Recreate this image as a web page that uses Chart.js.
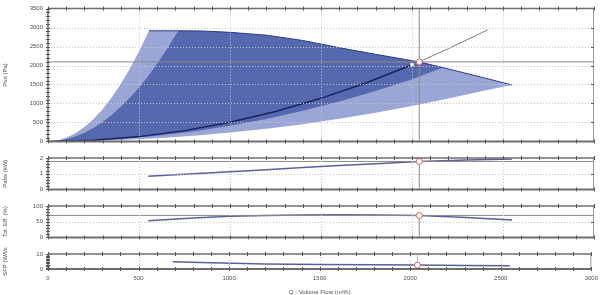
<!DOCTYPE html>
<html>
<head>
<meta charset="utf-8">
<script src="https://cdn.jsdelivr.net/npm/chart.js@4.4.1/dist/chart.umd.min.js"></script>
<style>
  body { margin: 0; background: #fff; width: 604px; height: 295px; overflow: hidden; position: relative; }
  canvas { position: absolute; left: 0; }
</style>
</head>
<body>
<canvas id="ptotChart" width="604" height="150" style="top:0px"></canvas>
<canvas id="pabsChart" width="604" height="50" style="top:148px"></canvas>
<canvas id="effChart" width="604" height="50" style="top:196px"></canvas>
<canvas id="sfpChart" width="604" height="52" style="top:244px"></canvas>
<script>
const flowTicks = [0, 500, 1000, 1500, 2000, 2500, 3000];
const ptotTicks = [0, 500, 1000, 1500, 2000, 2500, 3000, 3500];
const pabsTicks = [0, 1, 2];
const effTicks = [0, 50, 100];
const sfpTicks = [0, 10];

// whole working range of the fan (light area)
const lightLeftQ = [0, 50, 100, 150, 200, 250, 300, 350, 400, 450, 500, 555];
const lightLeftP = [0, 24, 95, 213, 380, 590, 850, 1160, 1515, 1920, 2370, 2915];
const topQ = [555, 716, 850, 1000, 1200, 1400, 1600, 1800, 2040, 2170, 2400, 2550];
const topP = [2915, 2915, 2910, 2875, 2800, 2660, 2470, 2295, 2095, 1945, 1670, 1486];
const lightBottomQ = [2550, 2400, 2200, 2000, 1800, 1600, 1400, 1200, 1000, 800, 600, 400, 200, 0];
const lightBottomP = [1486, 1340, 1130, 935, 755, 595, 455, 335, 235, 150, 85, 37, 9, 0];

// best efficiency area (dark)
const darkLeftQ = [0, 50, 100, 150, 200, 250, 300, 350, 400, 450, 500, 550, 600, 650, 700, 716];
const darkLeftP = [0, 14, 57, 128, 228, 356, 512, 697, 910, 1150, 1420, 1720, 2050, 2400, 2790, 2915];
const darkBottomQ = [2170, 2000, 1800, 1600, 1400, 1200, 1000, 800, 600, 400, 200, 0];
const darkBottomP = [1945, 1640, 1330, 1050, 805, 590, 410, 262, 148, 66, 16, 0];

// system curve
const systemQ = [0, 250, 500, 750, 1000, 1250, 1500, 1750, 2000];
const systemP = [0, 32, 126, 284, 505, 790, 1135, 1545, 2020];
const systemExtQ = [2000, 2040, 2200, 2416];
const systemExtP = [2020, 2100, 2445, 2940];

const designQ = 2000;
const designP = 2020;
const opQ = 2040;
const opPtot = 2095;
const opPabs = 1.78;
const opEff = 70;
const opSfp = 2.6;

const pabsQ = [551, 800, 1000, 1200, 1400, 1600, 1800, 2040, 2300, 2550];
const pabsKW = [0.84, 0.99, 1.12, 1.25, 1.39, 1.52, 1.64, 1.78, 1.87, 1.93];
const effQ = [551, 800, 1000, 1200, 1400, 1600, 1800, 2040, 2300, 2550];
const effPct = [53, 62, 67, 70, 71.5, 72, 71.5, 70, 63, 55.5];
const sfpQ = [689, 900, 1200, 1500, 1800, 2040, 2300, 2550];
const sfpVal = [4.8, 4.1, 3.4, 3.0, 2.8, 2.6, 2.3, 2.1];

const LIGHT = "#9aa6d6";
const DARK = "#5668ae";
const NAVY = "#2e3c85";
const CURVE = "#5c5f9e";
const GREY = "#8a8a8a";
const RED = "#e06060";

Chart.defaults.font.family = "'Liberation Sans', Arial, sans-serif";
Chart.defaults.font.size = 6;
Chart.defaults.color = "#505050";

function pts(qs, vs) {
    return qs.map((q, i) => ({ x: q, y: vs[i] }));
}

function line(data, color, width) {
    return {
        data: data,
        showLine: true,
        borderColor: color,
        borderWidth: width,
        pointRadius: 0,
        fill: false
    };
}

function marker(q, v) {
    return {
        data: [{ x: q, y: v }],
        pointRadius: 3,
        pointBackgroundColor: "#ffffff",
        pointBorderColor: RED,
        pointBorderWidth: 1
    };
}

// frame, dotted grid and little tick marks like the original plot
const frame = {
    id: "frame",
    afterDatasetsDraw(chart, args, opts) {
        const { ctx, chartArea: a, scales: { x, y } } = chart;
        ctx.save();

        ctx.strokeStyle = "#c4c4c4";
        ctx.lineWidth = 1;
        ctx.setLineDash([1, 2]);
        flowTicks.forEach(v => {
            if (v > x.min && v < x.max) {
                const px = Math.round(x.getPixelForValue(v)) + 0.5;
                ctx.beginPath(); ctx.moveTo(px, a.top); ctx.lineTo(px, a.bottom); ctx.stroke();
            }
        });
        opts.yGrid.forEach(v => {
            const py = Math.round(y.getPixelForValue(v)) + 0.5;
            ctx.beginPath(); ctx.moveTo(a.left, py); ctx.lineTo(a.right, py); ctx.stroke();
        });
        ctx.setLineDash([]);

        ctx.strokeStyle = "#9a9a9a";
        ctx.lineWidth = 1;
        ctx.beginPath(); ctx.moveTo(a.right - 0.5, a.top); ctx.lineTo(a.right - 0.5, a.bottom); ctx.stroke();

        ctx.strokeStyle = "#6e6e6e";
        ctx.lineWidth = 1.5;
        ctx.beginPath(); ctx.moveTo(a.left, a.top); ctx.lineTo(a.right, a.top); ctx.stroke();
        ctx.beginPath(); ctx.moveTo(a.left, a.top); ctx.lineTo(a.left, a.bottom); ctx.stroke();
        ctx.lineWidth = 2;
        ctx.beginPath(); ctx.moveTo(a.left, a.bottom); ctx.lineTo(a.right, a.bottom); ctx.stroke();

        ctx.lineWidth = 1;
        ctx.strokeStyle = "#555";
        for (let v = x.min; v <= x.max; v += 100) {
            const px = Math.round(x.getPixelForValue(v)) + 0.5;
            ctx.beginPath(); ctx.moveTo(px, a.top - 2); ctx.lineTo(px, a.top + 2); ctx.stroke();
            ctx.beginPath(); ctx.moveTo(px, a.bottom - 2); ctx.lineTo(px, a.bottom + 2); ctx.stroke();
        }
        const steps = Math.round((y.max - y.min) / opts.yMinor);
        for (let i = 0; i <= steps; i++) {
            const py = Math.round(y.getPixelForValue(y.min + i * opts.yMinor)) + 0.5;
            ctx.beginPath(); ctx.moveTo(a.left - 2, py); ctx.lineTo(a.left + 2, py); ctx.stroke();
        }
        opts.yGrid.forEach(v => {
            const py = Math.round(y.getPixelForValue(v)) + 0.5;
            ctx.beginPath(); ctx.moveTo(a.right - 3, py); ctx.lineTo(a.right, py); ctx.stroke();
        });
        ctx.restore();
    }
};

function makeScales(yTicks, yTitle, showX) {
    return {
        x: {
            type: "linear",
            min: 0,
            max: 3000,
            afterBuildTicks: s => { s.ticks = flowTicks.map(v => ({ value: v })); },
            afterFit: s => { s.height = showX ? 27 : 6; },
            grid: { display: false, drawTicks: false },
            border: { display: false },
            ticks: { display: showX, padding: 6, maxRotation: 0, autoSkip: false, callback: v => String(v) },
            title: { display: showX, text: "Q - Volume Flow (m³/h)", padding: 0 }
        },
        y: {
            type: "linear",
            min: yTicks[0],
            max: yTicks[yTicks.length - 1],
            afterBuildTicks: s => { s.ticks = yTicks.map(v => ({ value: v })); },
            afterFit: s => { s.width = 46; },
            grid: { display: false, drawTicks: false },
            border: { display: false },
            ticks: { padding: 5, autoSkip: false, callback: v => String(v) },
            title: { display: true, text: yTitle, padding: 0 }
        }
    };
}

function makeChart(id, datasets, scales, padTop, yGrid, yMinor) {
    return new Chart(document.getElementById(id), {
        type: "scatter",
        data: { datasets: datasets },
        options: {
            responsive: false,
            animation: false,
            devicePixelRatio: 1,
            layout: { padding: { top: padTop, right: 10, bottom: 0, left: 2 } },
            plugins: {
                legend: { display: false },
                tooltip: { enabled: false },
                frame: { yGrid: yGrid, yMinor: yMinor }
            },
            scales: scales
        },
        plugins: [frame]
    });
}

const lightShape = pts(lightLeftQ, lightLeftP)
    .concat(pts(topQ, topP).slice(1))
    .concat(pts(lightBottomQ, lightBottomP).slice(1));
const darkShape = pts(darkLeftQ, darkLeftP)
    .concat(pts(topQ, topP).slice(2, 10))
    .concat(pts(darkBottomQ, darkBottomP).slice(1));

// first dataset is drawn on top
makeChart("ptotChart", [
    marker(opQ, opPtot),
    {
        data: [{ x: designQ, y: designP }],
        pointStyle: "rect",
        pointRadius: 2,
        pointBackgroundColor: "#ffffff",
        pointBorderColor: "#ffffff",
        pointBorderWidth: 0.5
    },
    line(pts(systemExtQ, systemExtP), "#7a7a7a", 1),
    line(pts(systemQ, systemP), "#1a2260", 1.5),
    line(pts([opQ, opQ], [ptotTicks[0], ptotTicks[ptotTicks.length - 1]]), GREY, 1),
    line(pts([flowTicks[0], flowTicks[flowTicks.length - 1]], [opPtot, opPtot]), GREY, 1),
    line(pts(topQ, topP), NAVY, 1),
    { data: darkShape, showLine: true, borderWidth: 0, pointRadius: 0, backgroundColor: DARK, fill: "shape" },
    { data: lightShape, showLine: true, borderWidth: 0, pointRadius: 0, backgroundColor: LIGHT, fill: "shape" }
], makeScales(ptotTicks, "Ptot (Pa)", false), 7, [500, 1000, 1500, 2000, 2500, 3000], 100);

makeChart("pabsChart", [
    marker(opQ, opPabs),
    line(pts([opQ, opQ], [0, opPabs]), GREY, 1),
    line(pts([flowTicks[0], flowTicks[flowTicks.length - 1]], [opPabs, opPabs]), GREY, 1),
    line(pts(pabsQ, pabsKW), CURVE, 1.5)
], makeScales(pabsTicks, "Pabs (kW)", false), 10, [1], 0.2);

makeChart("effChart", [
    marker(opQ, opEff),
    line(pts([opQ, opQ], [0, opEff]), GREY, 1),
    line(pts([flowTicks[0], flowTicks[flowTicks.length - 1]], [opEff, opEff]), GREY, 1),
    line(pts(effQ, effPct), CURVE, 1.5)
], makeScales(effTicks, "Tot. Eff. (%)", false), 10, [50], 10);

makeChart("sfpChart", [
    marker(opQ, opSfp),
    line(pts([opQ, opQ], [opSfp, 10]), "#a8c8cc", 1),
    line(pts(sfpQ, sfpVal), CURVE, 1.5)
], makeScales(sfpTicks, "SFP (W/l/s", true), 10, [], 1);
</script>
</body>
</html>
